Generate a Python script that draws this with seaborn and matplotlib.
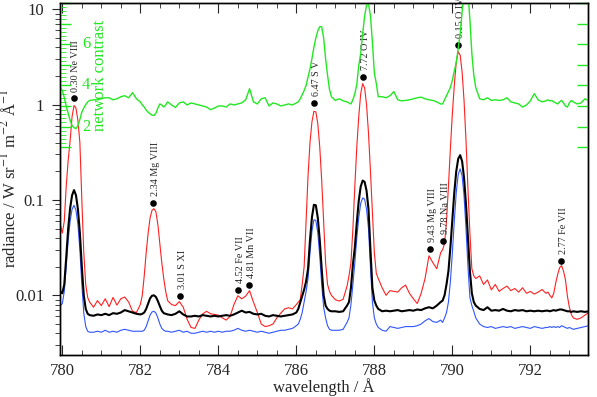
import seaborn as sns
import matplotlib.pyplot as plt
import matplotlib.transforms as mtransforms
from matplotlib.ticker import MultipleLocator, LogLocator, FixedLocator, FuncFormatter, NullFormatter

# wavelength grid (Angstrom), finer around the strong lines
wavelength = [
    779.90, 779.95, 780.00, 780.05, 780.10, 780.15, 780.20, 780.25, 780.30, 780.35, 780.40, 780.45, 780.50, 780.55, 780.60, 780.65, 780.70,
    780.8, 780.9, 781.0, 781.1, 781.2, 781.3, 781.4, 781.5, 781.6, 781.7, 781.8, 781.9,
    782.00, 782.05, 782.10, 782.15, 782.20, 782.25, 782.30, 782.35, 782.40, 782.45, 782.50, 782.55, 782.60, 782.65, 782.70,
    782.8, 782.9, 783.0, 783.1, 783.2, 783.3, 783.4, 783.5, 783.6, 783.7, 783.8, 783.9, 784.0, 784.1, 784.2, 784.3, 784.4,
    784.5, 784.6, 784.7, 784.8, 784.9, 785.0, 785.1, 785.2, 785.3, 785.4, 785.5, 785.6, 785.7, 785.8, 785.9, 786.0,
    786.05, 786.10, 786.15, 786.20, 786.25, 786.30, 786.35, 786.40, 786.45, 786.50, 786.55, 786.60, 786.65, 786.70, 786.75, 786.80, 786.85, 786.90,
    787.0, 787.1, 787.2, 787.3,
    787.35, 787.40, 787.45, 787.50, 787.55, 787.60, 787.65, 787.70, 787.75, 787.80, 787.85, 787.90, 787.95, 788.00, 788.05, 788.10,
    788.2, 788.3, 788.4, 788.5, 788.6, 788.7, 788.8, 788.9, 789.0, 789.1, 789.2, 789.3, 789.4, 789.5, 789.6, 789.7,
    789.75, 789.80, 789.85, 789.90, 789.95, 790.00, 790.05, 790.10, 790.15, 790.20, 790.25, 790.30, 790.35, 790.40, 790.45, 790.50, 790.55, 790.60,
    790.7, 790.8, 790.9, 791.0, 791.1, 791.2, 791.3, 791.4, 791.5, 791.6, 791.7, 791.8, 791.9, 792.0, 792.1, 792.2, 792.3, 792.4,
    792.45, 792.50, 792.55, 792.60, 792.65, 792.70, 792.75, 792.80, 792.85, 792.90, 792.95, 793.00, 793.05, 793.10,
    793.2, 793.3, 793.4, 793.5,
]

# red: network radiance
network = [
    0.065, 0.055, 0.045, 0.06, 0.14, 0.26, 0.42, 0.75, 0.98, 0.92, 0.68, 0.40, 0.10, 0.028, 0.013, 0.0095, 0.0085,
    0.0075, 0.0088, 0.0078, 0.0092, 0.0076, 0.0095, 0.0079, 0.0092, 0.0096, 0.0085, 0.0068, 0.0066,
    0.008, 0.010, 0.016, 0.028, 0.045, 0.065, 0.078, 0.081, 0.075, 0.055, 0.035, 0.022, 0.015, 0.011, 0.0088,
    0.0080, 0.0078, 0.0086, 0.0075, 0.0056, 0.0046, 0.0045, 0.0055, 0.0064, 0.0068, 0.0064, 0.0063, 0.0062, 0.0058, 0.0055, 0.0060, 0.0080,
    0.0099, 0.0092, 0.0098, 0.0112, 0.0085, 0.0066, 0.0050, 0.0047, 0.0048, 0.0050, 0.0058, 0.0065, 0.0072, 0.0074, 0.0072, 0.0080,
    0.0085, 0.009, 0.013, 0.02, 0.06, 0.18, 0.40, 0.66, 0.85, 0.84, 0.63, 0.36, 0.16, 0.06, 0.022, 0.013, 0.011, 0.0100,
    0.0090, 0.0087, 0.0091, 0.0125,
    0.016, 0.022, 0.05, 0.14, 0.36, 0.75, 1.3, 1.66, 1.5, 1.0, 0.5, 0.2, 0.075, 0.028, 0.017, 0.015,
    0.012, 0.0100, 0.0112, 0.0110, 0.0108, 0.0120, 0.0128, 0.0105, 0.0092, 0.0082, 0.0105, 0.015, 0.026, 0.022, 0.019, 0.028,
    0.030, 0.035, 0.06, 0.14, 0.35, 0.8, 1.6, 2.8, 3.6, 3.3, 2.2, 1.1, 0.42, 0.13, 0.045, 0.019, 0.016, 0.015,
    0.016, 0.013, 0.0145, 0.0114, 0.0130, 0.0110, 0.0118, 0.0125, 0.0112, 0.0118, 0.0108, 0.0120, 0.0105, 0.0110, 0.0103, 0.0108, 0.0115, 0.0105,
    0.0108, 0.0100, 0.0094, 0.0105, 0.0135, 0.0165, 0.0195, 0.0205, 0.018, 0.0145, 0.0098, 0.0075, 0.0063, 0.0058,
    0.0056, 0.0058, 0.0062, 0.0066,
]

# black: average radiance
average = [
    0.012, 0.011, 0.0105, 0.013, 0.025, 0.05, 0.082, 0.112, 0.127, 0.112, 0.08, 0.045, 0.02, 0.01, 0.0072, 0.0064, 0.0062,
    0.0061, 0.0063, 0.0062, 0.0064, 0.0062, 0.0065, 0.0064, 0.0066, 0.0070, 0.0068, 0.0066, 0.0064,
    0.0063, 0.0064, 0.0066, 0.0072, 0.0082, 0.0093, 0.0099, 0.0100, 0.0096, 0.0087, 0.0077, 0.0069, 0.0065, 0.0064, 0.0063,
    0.0062, 0.0064, 0.0068, 0.0063, 0.0060, 0.0060, 0.0061, 0.0060, 0.0062, 0.0061, 0.0060, 0.0061, 0.0060, 0.0061, 0.0062, 0.0061, 0.0063,
    0.0066, 0.0069, 0.0066, 0.0067, 0.0064, 0.0063, 0.0064, 0.0061, 0.0060, 0.0062, 0.0061, 0.0060, 0.0061, 0.0062, 0.0063, 0.0066,
    0.0072, 0.0084, 0.0098, 0.0115, 0.014, 0.019, 0.038, 0.066, 0.089, 0.088, 0.065, 0.038, 0.019, 0.010, 0.0078, 0.0072, 0.0069, 0.0068,
    0.0068, 0.0067, 0.0068, 0.0078,
    0.0085, 0.012, 0.021, 0.032, 0.058, 0.098, 0.138, 0.160, 0.155, 0.125, 0.08, 0.03, 0.012, 0.0088, 0.0078, 0.0072,
    0.0068, 0.0069, 0.0068, 0.0069, 0.0070, 0.0068, 0.0069, 0.0070, 0.0069, 0.0071, 0.0070, 0.0073, 0.0075, 0.0073, 0.0078, 0.0085,
    0.0088, 0.0100, 0.013, 0.018, 0.032, 0.062, 0.12, 0.20, 0.27, 0.295, 0.255, 0.17, 0.09, 0.04, 0.018, 0.0105, 0.0085, 0.0078,
    0.0072, 0.0070, 0.0075, 0.0069, 0.0070, 0.0069, 0.0072, 0.0069, 0.0068, 0.0070, 0.0069, 0.0070, 0.0068, 0.0069, 0.0068, 0.0069, 0.0068, 0.0069,
    0.0069, 0.0068, 0.0069, 0.0070, 0.0069, 0.0070, 0.0071, 0.0071, 0.0070, 0.0069, 0.0068, 0.0068, 0.0067, 0.0068,
    0.0067, 0.0068, 0.0067, 0.0068,
]

# blue: cell interior radiance
cell = [
    0.0075, 0.0078, 0.0082, 0.011, 0.02, 0.038, 0.06, 0.08, 0.088, 0.078, 0.055, 0.03, 0.013, 0.0065, 0.0047, 0.0042, 0.0041,
    0.0041, 0.0042, 0.0041, 0.0043, 0.0041, 0.0042, 0.0041, 0.0043, 0.0044, 0.0043, 0.0042, 0.0042,
    0.0042, 0.0042, 0.0043, 0.0047, 0.0054, 0.0062, 0.0067, 0.0068, 0.0065, 0.0058, 0.0050, 0.0045, 0.0043, 0.0042, 0.0042,
    0.0041, 0.0042, 0.0043, 0.0041, 0.0042, 0.0040, 0.0040, 0.0041, 0.0042, 0.0041, 0.0042, 0.0041, 0.0042, 0.0041, 0.0042, 0.0042, 0.0043,
    0.0045, 0.0043, 0.0042, 0.0043, 0.0042, 0.0041, 0.0042, 0.0041, 0.0040, 0.0041, 0.0042, 0.0043, 0.0043, 0.0044, 0.0045, 0.0048,
    0.0050, 0.0056, 0.0066, 0.0085, 0.011, 0.015, 0.028, 0.047, 0.062, 0.061, 0.045, 0.026, 0.013, 0.0075, 0.0058, 0.0048, 0.0044, 0.0043,
    0.0043, 0.0043, 0.0044, 0.0052,
    0.0058, 0.0080, 0.013, 0.022, 0.040, 0.065, 0.092, 0.105, 0.102, 0.080, 0.050, 0.020, 0.0085, 0.0058, 0.0050, 0.0046,
    0.0043, 0.0042, 0.0047, 0.0046, 0.0045, 0.0046, 0.0047, 0.0047, 0.0047, 0.0048, 0.0050, 0.0054, 0.0057, 0.0053, 0.0052, 0.0055,
    0.0052, 0.0058, 0.0066, 0.0085, 0.014, 0.028, 0.06, 0.12, 0.185, 0.212, 0.18, 0.11, 0.05, 0.02, 0.0095, 0.0078, 0.0068, 0.0058,
    0.0050, 0.0047, 0.0046, 0.0047, 0.0045, 0.0046, 0.0047, 0.0046, 0.0047, 0.0045, 0.0046, 0.0047, 0.0046, 0.0045, 0.0047, 0.0046, 0.0045, 0.0046,
    0.0046, 0.0047, 0.0046, 0.0047, 0.0046, 0.0047, 0.0046, 0.0048, 0.0047, 0.0046, 0.0045, 0.0046, 0.0045, 0.0044,
    0.0045, 0.0046, 0.0047, 0.0048,
]

# green: network contrast (right-hand linear scale)
contrast = [
    4.0, 3.9, 3.75, 3.4, 3.0, 2.65, 2.3, 2.05, 1.95, 1.9, 2.05, 2.35, 2.7, 2.9, 3.07, 3.2, 3.27,
    3.3, 3.3, 3.35, 3.4, 3.4, 3.3, 3.35, 3.45, 3.5, 3.4, 3.65, 3.35,
    3.2, 3.05, 2.95, 2.8, 2.7, 2.62, 2.56, 2.54, 2.65, 2.9, 3.1, 3.05, 2.95, 3.05, 3.2,
    3.05, 2.93, 3.15, 3.2, 3.05, 3.15, 3.1, 3.05, 3.0, 2.95, 2.82, 2.9, 3.0, 3.0, 2.95, 3.1, 3.05,
    3.1, 3.15, 3.3, 3.84, 3.2, 3.1, 3.35, 3.4, 3.0, 3.15, 3.1, 3.0, 3.05, 3.1, 3.05, 3.15,
    3.2, 3.35, 3.55, 3.75, 4.0, 4.4, 4.8, 5.3, 5.85, 6.3, 6.65, 6.85, 6.85, 6.3, 5.3, 4.5, 3.8, 3.45,
    3.27, 3.35, 3.25, 3.2,
    3.15, 3.1, 3.3, 3.6, 4.05, 4.95, 5.55, 6.5, 7.35, 7.9, 7.95, 7.4, 6.1, 4.6, 4.1, 3.45,
    3.45, 3.4, 3.5, 3.7, 3.3, 3.25, 3.27, 3.3, 3.35, 3.4, 3.43, 3.35, 3.3, 3.27, 3.2, 3.1,
    3.1, 3.3, 3.5, 3.7, 3.9, 4.25, 4.7, 5.1, 5.8, 6.5, 7.6, 8.6, 9.5, 8.5, 7.2, 5.54, 4.5, 3.9,
    3.35, 3.3, 3.4, 3.27, 3.3, 3.27, 3.3, 3.4, 3.2, 3.15, 3.1, 2.95, 3.05, 3.25, 3.6, 3.3, 3.2, 3.25,
    3.3, 3.25, 3.27, 3.2, 3.15, 3.1, 3.2, 3.27, 3.15, 3.0, 2.95, 3.15, 3.27, 3.2,
    3.1, 3.15, 3.35, 3.25,
]

# line identifications: marker position and label
line_wl = [780.29, 782.33, 783.02, 784.51, 784.79, 786.46, 787.71, 789.43, 789.76, 790.15, 792.79]
line_mark = [1.16, 0.0925, 0.0098, 0.0113, 0.0128, 1.03, 1.93, 0.0307, 0.0375, 4.2, 0.0229]
line_label = ["0.30 Ne VIII", "2.34 Mg VIII", "3.01 S XI", "4.52 Fe VII", "4.81 Mn VII", "6.47 S V",
              "7.72 O IV", "9.43 Mg VIII", "9.78 Na VIII", "0.15 O IV", "2.77 Fe VII"]

GREEN = "#22e822"

sns.set_style("ticks")
plt.rcParams["font.family"] = ["Liberation Serif", "DejaVu Serif"]
plt.rcParams["mathtext.fontset"] = "stix"

fig = plt.figure(figsize=(5.97, 3.97), dpi=100)
ax = fig.add_axes([0.0997, 0.1058, 0.8853, 0.8866])

sns.lineplot(x=wavelength, y=network, ax=ax, color="#ff2020", linewidth=0.8, estimator=None, sort=False)
sns.lineplot(x=wavelength, y=cell, ax=ax, color="#2f55ff", linewidth=0.8, estimator=None, sort=False)
sns.lineplot(x=wavelength, y=average, ax=ax, color="black", linewidth=1.5, estimator=None, sort=False)
ax.scatter(line_wl, line_mark, s=14, color="black", zorder=5)
for x, y, lab in zip(line_wl, line_mark, line_label):
    ax.annotate(lab, (x, y), xytext=(1.5, 5), textcoords="offset points", rotation=90,
                ha="center", va="bottom", fontsize=7.3)

ax.set_yscale("log")
ax.set_xlim(779.928, 793.479)
ax.set_ylim(0.002366, 11.64)
ax.xaxis.set_major_locator(MultipleLocator(2))
ax.xaxis.set_minor_locator(MultipleLocator(0.5))
ax.yaxis.set_major_locator(LogLocator(base=10))
ax.yaxis.set_minor_locator(LogLocator(base=10, subs=range(2, 10)))
ax.yaxis.set_major_formatter(FuncFormatter(lambda v, p: f"{v:g}"))
ax.yaxis.set_minor_formatter(NullFormatter())
ax.tick_params(axis="x", which="both", direction="in", top=True, labelsize=12, pad=6)
ax.tick_params(axis="x", which="major", length=7)
ax.tick_params(axis="x", which="minor", length=3.5)
ax.tick_params(axis="y", which="both", direction="out", right=True, labelsize=12, pad=5)
ax.tick_params(axis="y", which="major", length=6)
ax.tick_params(axis="y", which="minor", length=3.5)
for s in ax.spines.values():
    s.set_linewidth(1.0)
    s.set_color("black")
ax.set_xlabel("wavelength / Å", fontsize=12)
ax.set_ylabel(r"radiance / W sr$^{-1}$ m$^{-2}$ Å$^{-1}$", fontsize=12)
ax.xaxis.set_label_coords(0.5, -0.065)
ax.yaxis.set_label_coords(-0.075, 0.5)

# network contrast on a twin linear axis
ax2 = ax.twinx()
sns.lineplot(x=wavelength, y=contrast, ax=ax2, color=GREEN, linewidth=1.0, estimator=None, sort=False)
ax2.set_ylim(-9.09, 8.0)
ax2.set_ylabel("")
ax2.yaxis.set_major_locator(FixedLocator([1, 2, 3, 4, 5, 6, 7, 8]))
ax2.yaxis.set_minor_locator(FixedLocator([1 + 0.2 * i for i in range(36)]))
ax2.tick_params(axis="y", which="both", direction="in", left=True, right=True, colors=GREEN,
                labelleft=False, labelright=False)
ax2.tick_params(axis="y", which="major", length=8, width=1.0)
ax2.tick_params(axis="y", which="minor", length=4, right=False)
for s in ax2.spines.values():
    s.set_color("black")
    s.set_linewidth(1.0)
trans = mtransforms.blended_transform_factory(ax2.transAxes, ax2.transData)
for v in [2, 4, 6]:
    ax2.text(0.05, v, str(v), transform=trans, color=GREEN, fontsize=12, ha="center", va="center")
ax2.text(0.0766, 4.5, "network contrast", transform=trans, color=GREEN, fontsize=12,
         rotation=90, ha="center", va="center")

fig.savefig("out.png", dpi=100)
